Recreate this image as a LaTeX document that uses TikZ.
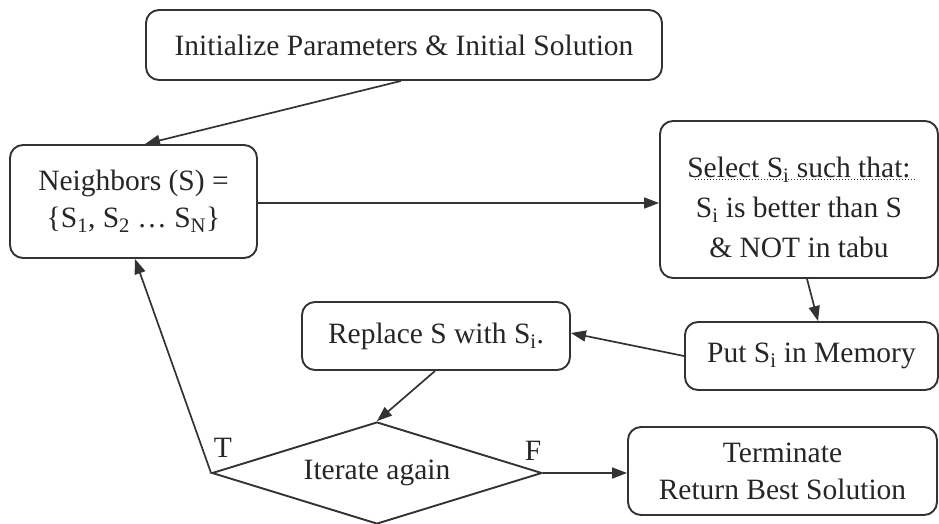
\documentclass[tikz,border=0pt]{standalone}
\usepackage{fontspec}
\setmainfont{Liberation Serif}
\usetikzlibrary{shapes.geometric,arrows.meta,calc}
\definecolor{ink}{HTML}{333333}
\definecolor{txt}{HTML}{262626}
\begin{document}
\begin{tikzpicture}[x=1pt,y=-1pt,
  every node/.style={text=txt,font=\fontsize{29.5}{37}\selectfont},
  box/.style={draw=ink,line width=1.9pt,rounded corners=13pt,inner sep=0pt,align=center},
  dec/.style={draw=ink,line width=1.9pt,shape=diamond,aspect=3.2,inner sep=0pt,minimum width=330pt,minimum height=102pt},
  conn/.style={draw=ink,line width=1.7pt,-{Triangle[length=15pt,width=11pt]}},
  lbl/.style={inner sep=0pt}]
\useasboundingbox (0,0) rectangle (939,523);
\node[box,minimum width=516pt,minimum height=70pt] (init) at (404,45) {Initialize Parameters \& Initial Solution};
\node[box,minimum width=247pt,minimum height=113pt] (nb) at (133.5,201.5) {\raisebox{3pt}{\begin{tabular}{@{}c@{}}Neighbors (S) =\\\{S\textsubscript{1}, S\textsubscript{2} … S\textsubscript{N}\}\end{tabular}}};
\node[box,minimum width=278pt,minimum height=157pt] (sel) at (799,199.5) {\raisebox{-16pt}[0pt][0pt]{\fontsize{29.5}{40}\selectfont\begin{tabular}{@{}c@{}}Select S\textsubscript{i} such that:\\S\textsubscript{i} is better than S\\\& NOT in tabu\end{tabular}}};
\node[box,minimum width=253pt,minimum height=68pt] (mem) at (811.5,356) {Put S\textsubscript{i} in Memory};
\node[box,minimum width=268pt,minimum height=68pt] (rep) at (436,336) {Replace S with S\textsubscript{i}.};
\node[dec] (dia) at (377,473) {Iterate again};
\node[box,minimum width=309pt,minimum height=88pt] (term) at (782.5,471) {Terminate\\Return Best Solution};
\node[lbl] (T) at (223,448) {T};
\node[lbl] (F) at (533,451) {F};
\coordinate (nbE) at ([yshift=-1.5pt]nb.east);
\draw[ink,line width=1pt,dotted] ($(sel.center)+(-104,-20.5)$) -- ($(sel.center)+(118,-20.5)$);
\draw[conn] ([xshift=-3pt]init.south) -- ([xshift=11.5pt]nb.north);
\draw[conn] (nbE) -- (sel.west |- nbE);
\draw[conn] ([xshift=8pt]sel.south) -- ([xshift=6.5pt]mem.north);
\draw[conn] (mem.west) -- ([yshift=3pt]rep.east);
\draw[conn] ([xshift=-1pt]rep.south) -- (dia.north);
\draw[conn] (dia.east) -- (term.west |- dia.east);
\draw[conn] (dia.west) -- ([xshift=1.5pt]nb.south);
\end{tikzpicture}
\end{document}
